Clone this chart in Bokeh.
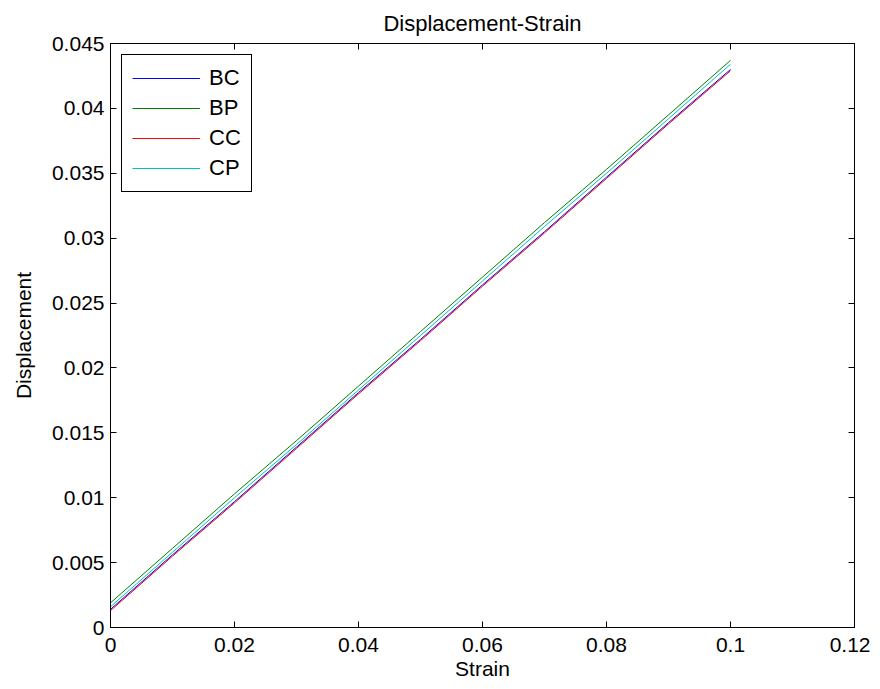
from bokeh.plotting import figure
from bokeh.models import LinearAxis, Range1d, FixedTicker, Legend, LegendItem
from bokeh.embed import file_html
from bokeh.resources import INLINE

strain = [0.0, 0.01, 0.02, 0.03, 0.04, 0.05, 0.06, 0.07, 0.08, 0.09, 0.1]
bc = [0.0014, 0.0056, 0.0097, 0.0139, 0.0181, 0.0222, 0.0264, 0.0305, 0.0347, 0.0389, 0.0430]
bp = [0.0019, 0.0061, 0.0103, 0.0144, 0.0186, 0.0228, 0.0270, 0.0312, 0.0353, 0.0395, 0.0437]
cc = [0.0013, 0.0055, 0.0096, 0.0138, 0.0180, 0.0221, 0.0263, 0.0304, 0.0346, 0.0388, 0.0429]
cp = [0.0016, 0.0058, 0.0100, 0.0141, 0.0183, 0.0225, 0.0267, 0.0309, 0.0350, 0.0392, 0.0434]
series_names = ["BC", "BP", "CC", "CP"]
series_colors = ["#0000ff", "#008000", "#ff0000", "#00bfbf"]
x_ticks = [0, 0.02, 0.04, 0.06, 0.08, 0.1, 0.12]
y_ticks = [0, 0.005, 0.01, 0.015, 0.02, 0.025, 0.03, 0.035, 0.04, 0.045]

FONT = "Liberation Sans"

p = figure(width=870, height=689, output_backend="svg", toolbar_location=None,
           x_range=Range1d(0, 0.12), y_range=Range1d(0, 0.045),
           title="Displacement-Strain", x_axis_label="Strain", y_axis_label="Displacement")
p.min_border_left = 110
p.min_border_right = 16
p.min_border_top = 43
p.min_border_bottom = 62
p.xgrid.visible = False
p.ygrid.visible = False
p.outline_line_color = "black"
p.outline_line_width = 1
p.outline_line_alpha = 1.0
p.background_fill_color = "white"
p.border_fill_color = "white"

p.title.align = "center"
p.title.text_font = FONT
p.title.text_font_size = "22px"
p.title.text_font_style = "normal"
p.title.text_color = "black"
p.title.offset = 0
p.title.standoff = 15

def style_axis(ax, labels=True):
    ax.major_tick_in = 6
    ax.major_tick_out = 0
    ax.minor_tick_in = 0
    ax.minor_tick_out = 0
    ax.axis_line_color = "black"
    ax.major_tick_line_color = "black"
    ax.major_label_text_font = FONT
    ax.major_label_text_color = "black"
    ax.major_label_text_font_size = "21px" if labels else "0px"
    ax.axis_label_text_font = FONT
    ax.axis_label_text_color = "black"
    ax.axis_label_text_font_size = "21px"
    ax.axis_label_text_font_style = "normal"

p.xaxis.ticker = FixedTicker(ticks=x_ticks)
p.yaxis.ticker = FixedTicker(ticks=y_ticks)
style_axis(p.xaxis[0])
style_axis(p.yaxis[0])
p.xaxis.major_label_standoff = 10
p.yaxis.major_label_standoff = 6
p.xaxis.axis_label_standoff = 2
p.yaxis.axis_label_standoff = 14
p.xaxis.major_label_overrides = {0: "0", 0.1: "0.1"}
p.yaxis.major_label_overrides = {0: "0"}

top_ax = LinearAxis(ticker=FixedTicker(ticks=x_ticks))
style_axis(top_ax, labels=False)
right_ax = LinearAxis(ticker=FixedTicker(ticks=y_ticks))
style_axis(right_ax, labels=False)
p.add_layout(top_ax, "above")
p.add_layout(right_ax, "right")

items = []
for name, ys, col in zip(series_names, [bc, bp, cc, cp], series_colors):
    r = p.line(strain, ys, line_color=col, line_width=1)
    items.append(LegendItem(label=name, renderers=[r]))

legend = Legend(items=items, location="top_left", margin=11,
                label_text_font=FONT, label_text_font_size="22px",
                label_text_color="black",
                glyph_width=68, glyph_height=20, label_height=20,
                spacing=4, padding=10, label_standoff=9,
                border_line_color="black", border_line_width=1, border_line_alpha=1.0,
                background_fill_alpha=1.0)
p.add_layout(legend)

open("out.html", "w").write(file_html(p, INLINE))
